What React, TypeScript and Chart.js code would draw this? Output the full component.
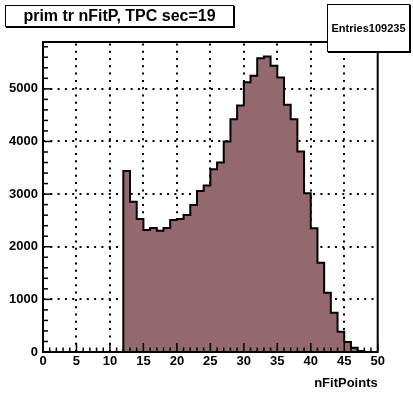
import React, { useEffect, useRef } from "react";
import { Chart, registerables } from "chart.js";

Chart.register(...registerables);

// ---- data ----
const binLowEdges = [12, 13, 14, 15, 16, 17, 18, 19, 20, 21, 22, 23, 24, 25, 26, 27, 28, 29, 30, 31, 32, 33, 34, 35, 36, 37, 38, 39, 40, 41, 42, 43, 44, 45, 46, 47];
const counts = [3440, 2857, 2529, 2319, 2357, 2306, 2357, 2510, 2529, 2605, 2795, 3060, 3162, 3473, 3600, 4000, 4424, 4683, 5127, 5247, 5583, 5614, 5437, 5215, 4696, 4424, 3808, 3017, 2352, 1698, 1128, 747, 386, 190, 80, 20];
const binWidth = 1;
const xTickValues = [0, 5, 10, 15, 20, 25, 30, 35, 40, 45, 50];
const yTickValues = [0, 1000, 2000, 3000, 4000, 5000];
const xMinorStep = 1;
const yMinorStep = 200;
const xRange = [0, 50];
const yRange = [0, 5890];
const titleText = "prim tr nFitP, TPC sec=19";
const statsText = "Entries109235";
const xAxisTitle = "nFitPoints";

const FILL = "#93686e";
const FONT = "'Liberation Sans', Arial, Helvetica, sans-serif";

const rootPlugin = {
  id: "rootStyle",
  beforeDatasetsDraw(chart: any) {
    const { ctx, chartArea: a, scales } = chart;
    const xs = scales.x, ys = scales.y;
    ctx.save();
    ctx.strokeStyle = "#000";
    ctx.lineWidth = 2;
    ctx.setLineDash([2, 5.3]);
    xTickValues.forEach((v) => {
      if (v <= xRange[0] || v >= xRange[1]) return;
      const px = Math.round(xs.getPixelForValue(v));
      ctx.beginPath();
      ctx.moveTo(px, a.bottom);
      ctx.lineTo(px, a.top);
      ctx.stroke();
    });
    yTickValues.forEach((v) => {
      if (v <= yRange[0] || v >= yRange[1]) return;
      const py = Math.round(ys.getPixelForValue(v));
      ctx.beginPath();
      ctx.moveTo(a.left, py);
      ctx.lineTo(a.right, py);
      ctx.stroke();
    });
    ctx.restore();
  },
  afterDatasetsDraw(chart: any) {
    const { ctx, chartArea: a, scales } = chart;
    const xs = scales.x, ys = scales.y;
    ctx.save();
    ctx.strokeStyle = "#000";
    ctx.lineWidth = 1.5;
    ctx.setLineDash([]);
    for (let v = xRange[0]; v <= xRange[1] + 1e-9; v += xMinorStep) {
      const major = xTickValues.includes(v);
      const px = xs.getPixelForValue(v);
      ctx.beginPath();
      ctx.moveTo(px, a.bottom);
      ctx.lineTo(px, a.bottom - (major ? 9 : 4.5));
      ctx.stroke();
    }
    for (let v = yRange[0]; v <= yRange[1]; v += yMinorStep) {
      const major = yTickValues.includes(v);
      const py = ys.getPixelForValue(v);
      ctx.beginPath();
      ctx.moveTo(a.left, py);
      ctx.lineTo(a.left + (major ? 9 : 5), py);
      ctx.stroke();
    }
    ctx.lineWidth = 2;
    ctx.strokeRect(a.left, a.top, a.right - a.left, a.bottom - a.top);
    ctx.restore();
  },
};

export default function App() {
  const ref = useRef<HTMLCanvasElement | null>(null);

  useEffect(() => {
    if (!ref.current) return;
    const points = [
      { x: binLowEdges[0], y: 0 },
      ...binLowEdges.map((x, i) => ({ x, y: counts[i] })),
      { x: binLowEdges[binLowEdges.length - 1] + binWidth, y: 0 },
    ];
    const chart = new Chart(ref.current, {
      type: "line",
      data: {
        datasets: [
          {
            data: points,
            stepped: "before",
            fill: "origin",
            backgroundColor: FILL,
            borderColor: "#000",
            borderWidth: 2,
            pointRadius: 0,
            tension: 0,
          },
        ],
      },
      options: {
        animation: false,
        responsive: false,
        devicePixelRatio: 1,
        layout: { padding: { top: 42, right: 35.3, left: 0, bottom: 0 } },
        plugins: { legend: { display: false }, tooltip: { enabled: false }, title: { display: false } },
        scales: {
          x: {
            type: "linear",
            min: xRange[0],
            max: xRange[1],
            grid: { display: false, drawTicks: false },
            border: { display: false },
            afterBuildTicks: (s: any) => {
              s.ticks = xTickValues.map((v) => ({ value: v }));
            },
            afterFit: (s: any) => {
              s.height = 41;
            },
            ticks: {
              padding: 2,
              color: "#000",
              maxRotation: 0,
              autoSkip: false,
              callback: (v: any) => String(v),
              font: { family: FONT, size: 13, weight: "bold" },
            },
            title: {
              display: true,
              text: xAxisTitle,
              align: "end",
              color: "#000",
              font: { family: FONT, size: 13, weight: "bold" },
              padding: { top: 0, bottom: 2 },
            },
          },
          y: {
            type: "linear",
            min: yRange[0],
            max: yRange[1],
            grid: { display: false, drawTicks: false },
            border: { display: false },
            afterBuildTicks: (s: any) => {
              s.ticks = yTickValues.map((v) => ({ value: v }));
            },
            afterFit: (s: any) => {
              s.width = 43;
            },
            ticks: {
              padding: 5,
              color: "#000",
              autoSkip: false,
              callback: (v: any) => String(v),
              font: { family: FONT, size: 13, weight: "bold" },
            },
          },
        },
      },
      plugins: [rootPlugin],
    } as any);
    return () => chart.destroy();
  }, []);

  const boxBase: React.CSSProperties = {
    position: "absolute",
    boxSizing: "border-box",
    background: "#fff",
    border: "1px solid #000",
    boxShadow: "1px 1px 0 #000",
    display: "flex",
    alignItems: "center",
    justifyContent: "center",
    fontFamily: FONT,
    fontWeight: "bold",
    color: "#000",
    whiteSpace: "nowrap",
  };

  return (
    <div style={{ position: "fixed", left: 0, top: 0, width: 413, height: 393, background: "#fff" }}>
      <canvas ref={ref} width={413} height={393} style={{ width: 413, height: 393, display: "block" }} />
      <div style={{ ...boxBase, left: 5, top: 5, width: 229, height: 22, fontSize: 16 }}>{titleText}</div>
      <div style={{ ...boxBase, left: 327, top: 4, width: 83, height: 48, fontSize: 11 }}>{statsText}</div>
    </div>
  );
}
